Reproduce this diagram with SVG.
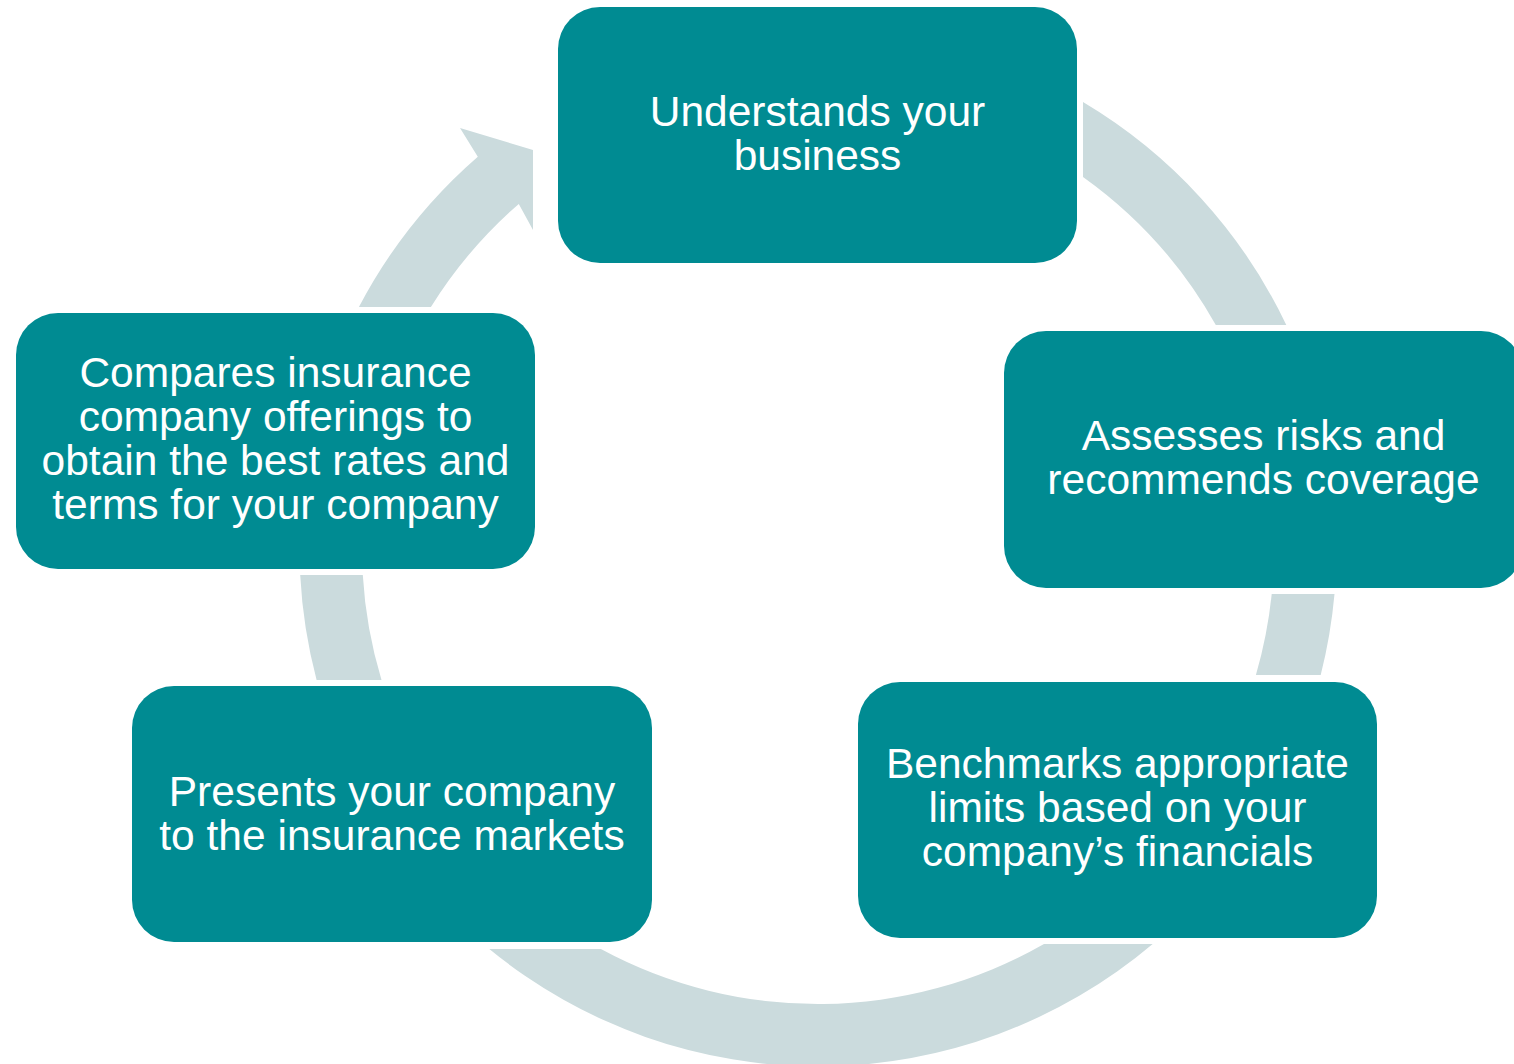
<svg xmlns="http://www.w3.org/2000/svg" width="1514" height="1064" viewBox="0 0 1514 1064">
  <style>
    .ring { fill: #CBDBDD; stroke: none; }
    .box { fill: #008B92; }
    .label { fill: #FFFFFF; font-family: "Liberation Sans", Arial, sans-serif; font-size: 42.5px; text-anchor: middle; }
  </style>
  <rect width="1514" height="1064" fill="#FFFFFF"/>

  <!-- circular flow band: centre (818,548), outer r 518.5, inner r 456 -->
  <g id="connectors">
    <path class="ring" d="M 1083 102.1 A 518.5 518.5 0 0 1 1286.3 325 L 1215.8 325 A 456 456 0 0 0 1083 176.9 Z"/>
    <path class="ring" d="M 1334.5 594 A 518.5 518.5 0 0 1 1320.7 675 L 1255.9 675 A 456 456 0 0 0 1271.7 594 Z"/>
    <path class="ring" d="M 1152.7 944 A 518.5 518.5 0 0 1 489.3 949 L 600.9 949 A 456 456 0 0 0 1044 944 Z"/>
    <path class="ring" d="M 316.6 680 A 518.5 518.5 0 0 1 300.2 575 L 362.8 575 A 456 456 0 0 0 381.5 680 Z"/>
    <path class="ring" d="M 358.9 307 A 518.5 518.5 0 0 1 477.8 156.7 L 460 128 L 533 150 L 533 230 L 518.8 203.9 A 456 456 0 0 0 430.9 307 Z"/>
  </g>

  <g id="node-understand">
    <rect class="box" x="558" y="7" width="519" height="256" rx="42" ry="42"/>
    <text class="label" x="817.5" y="126">Understands your</text>
    <text class="label" x="817.5" y="170">business</text>
  </g>

  <g id="node-assess">
    <rect class="box" x="1004" y="331" width="519" height="257" rx="42" ry="42"/>
    <text class="label" x="1263.5" y="450">Assesses risks and</text>
    <text class="label" x="1263.5" y="494">recommends coverage</text>
  </g>

  <g id="node-benchmark">
    <rect class="box" x="858" y="682" width="519" height="256" rx="42" ry="42"/>
    <text class="label" x="1117.5" y="778">Benchmarks appropriate</text>
    <text class="label" x="1117.5" y="822">limits based on your</text>
    <text class="label" x="1117.5" y="866">company’s financials</text>
  </g>

  <g id="node-present">
    <rect class="box" x="132" y="686" width="520" height="256" rx="42" ry="42"/>
    <text class="label" x="392" y="806">Presents your company</text>
    <text class="label" x="392" y="850">to the insurance markets</text>
  </g>

  <g id="node-compare">
    <rect class="box" x="16" y="313" width="519" height="256" rx="42" ry="42"/>
    <text class="label" x="275.5" y="387">Compares insurance</text>
    <text class="label" x="275.5" y="431">company offerings to</text>
    <text class="label" x="275.5" y="475">obtain the best rates and</text>
    <text class="label" x="275.5" y="519">terms for your company</text>
  </g>
</svg>
